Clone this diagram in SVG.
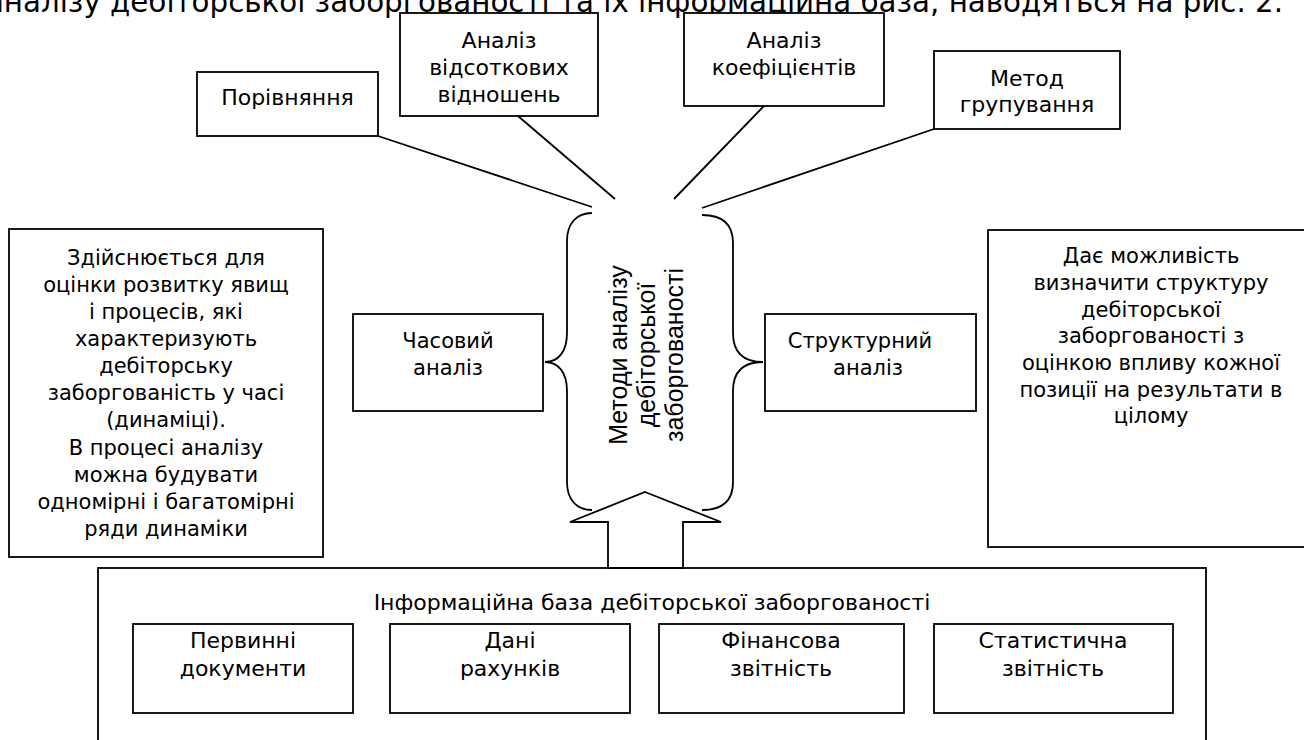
<svg xmlns="http://www.w3.org/2000/svg" width="1304" height="740" viewBox="0 0 1304 740">
<style>
.box{fill:#fff;stroke:#000;stroke-width:1.8}
.ln{fill:none;stroke:#000;stroke-width:1.8}
text{font-family:"DejaVu Sans","Verdana",sans-serif;font-size:21px;fill:#000;text-anchor:middle}
.cap{font-size:29.3px;text-anchor:end}
.top text{font-size:22px}
.inner text{font-size:22px}
.vert{font-family:"Liberation Sans","Arial",sans-serif;font-size:25px}
</style>
<rect width="1304" height="740" fill="#fff"/>
<text class="cap" x="1283" y="12">аналізу дебіторської заборгованості та їх інформаційна база, наводяться на рис. 2.</text>

<g id="connectors">
<line class="ln" x1="378" y1="136" x2="592" y2="207"/>
<line class="ln" x1="518" y1="116" x2="615" y2="199"/>
<line class="ln" x1="764" y1="106" x2="674" y2="199"/>
<line class="ln" x1="934" y1="129" x2="702" y2="208"/>
<path class="ln" d="M592,213 C577,213 567,223 567,241 L567,333 C567,352 558,362 545,362 C558,362 567,372 567,391 L567,482 C567,500 577,510 592,510"/>
<path class="ln" d="M702,215 C723,215 733,225 733,243 L733,333 C733,352 742,362 763,362 C742,362 733,372 733,391 L733,482 C733,500 723,510 702,510"/>
</g>

<g class="top">
<g id="node-porivniannia">
<rect class="box" x="197" y="72" width="181" height="64"/>
<text x="287.5" y="105">Порівняння</text>
</g>
<g id="node-vidsotkovi">
<rect class="box" x="400" y="13" width="198" height="103"/>
<text x="499" y="48">Аналіз</text>
<text x="499" y="75">відсоткових</text>
<text x="499" y="102">відношень</text>
</g>
<g id="node-koefitsienty">
<rect class="box" x="684" y="13" width="200" height="93"/>
<text x="784" y="48">Аналіз</text>
<text x="784" y="75">коефіцієнтів</text>
</g>
<g id="node-hrupuvannia">
<rect class="box" x="934" y="51" width="186" height="78"/>
<text x="1027" y="86">Метод</text>
<text x="1027" y="112">групування</text>
</g>
</g>

<g id="node-chasovyi-opys">
<rect class="box" x="9" y="229" width="314" height="328"/>
<text x="166" y="265">Здійснюється для</text>
<text x="166" y="292">оцінки розвитку явищ</text>
<text x="166" y="319">і процесів, які</text>
<text x="166" y="346">характеризують</text>
<text x="166" y="373">дебіторську</text>
<text x="166" y="400">заборгованість у часі</text>
<text x="166" y="427">(динаміці).</text>
<text x="166" y="455">В процесі аналізу</text>
<text x="166" y="482">можна будувати</text>
<text x="166" y="509">одномірні і багатомірні</text>
<text x="166" y="536">ряди динаміки</text>
</g>

<g id="node-chasovyi">
<rect class="box" x="353" y="314" width="190" height="97"/>
<text x="448" y="348">Часовий</text>
<text x="448" y="375">аналіз</text>
</g>

<g id="node-metody">
<g transform="translate(655,355) rotate(-90)">
<text class="vert" x="0" y="-28">Методи аналізу</text>
<text class="vert" x="0" y="0">дебіторської</text>
<text class="vert" x="0" y="28">заборгованості</text>
</g>
</g>

<g id="node-strukturnyi">
<rect class="box" x="765" y="314" width="211" height="97"/>
<text x="860" y="348">Структурний</text>
<text x="868" y="375">аналіз</text>
</g>

<g id="node-strukturnyi-opys">
<rect class="box" x="988" y="230" width="330" height="317"/>
<text x="1151" y="263">Дає можливість</text>
<text x="1151" y="290">визначити структуру</text>
<text x="1151" y="317">дебіторської</text>
<text x="1151" y="343">заборгованості з</text>
<text x="1151" y="370">оцінкою впливу кожної</text>
<text x="1151" y="397">позиції на результати в</text>
<text x="1151" y="423">цілому</text>
</g>

<g class="inner">
<g id="node-info-base">
<rect class="box" x="98" y="568" width="1108" height="190"/>
<text x="652" y="610">Інформаційна база дебіторської заборгованості</text>
</g>

<g id="arrow">
<polygon class="box" points="645,492 721,522 683,522 683,568 608,568 608,522 570,522"/>
</g>

<g id="node-pervynni">
<rect class="box" x="133" y="624" width="220" height="89"/>
<text x="243" y="648">Первинні</text>
<text x="243" y="676">документи</text>
</g>
<g id="node-dani">
<rect class="box" x="390" y="624" width="240" height="89"/>
<text x="510" y="648">Дані</text>
<text x="510" y="676">рахунків</text>
</g>
<g id="node-finansova">
<rect class="box" x="659" y="624" width="245" height="89"/>
<text x="781" y="648">Фінансова</text>
<text x="781" y="676">звітність</text>
</g>
<g id="node-statystychna">
<rect class="box" x="934" y="624" width="239" height="89"/>
<text x="1053" y="648">Статистична</text>
<text x="1053" y="676">звітність</text>
</g>
</g>
</svg>
